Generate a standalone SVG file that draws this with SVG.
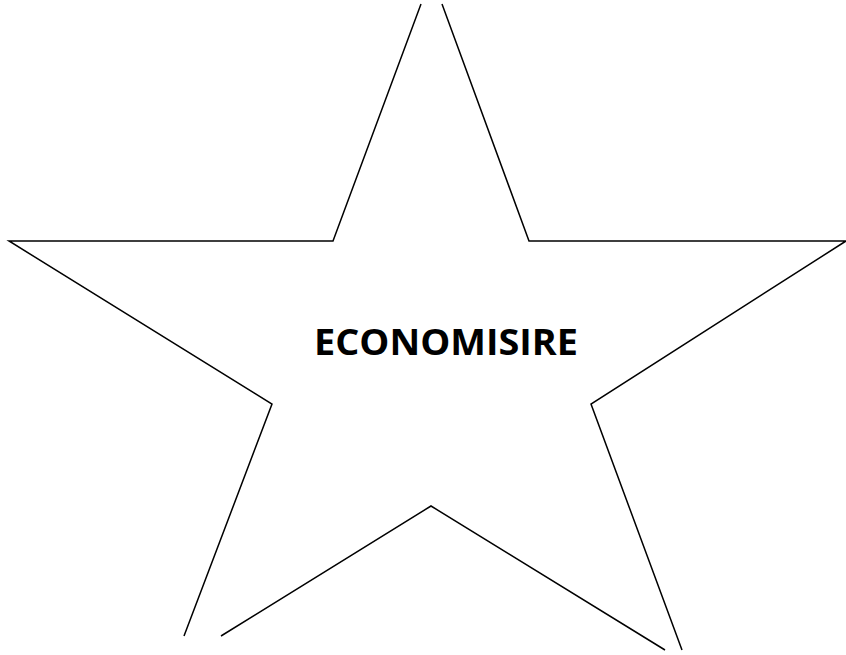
<svg xmlns="http://www.w3.org/2000/svg" width="846" height="655" viewBox="0 0 846 655">
<style>
.star{fill:none;stroke:#000;stroke-width:1.5;stroke-linejoin:miter}
.lbl{font-family:"Open Sans","Liberation Sans",sans-serif;font-weight:bold;font-size:36px;fill:#000}
</style>
<rect width="846" height="655" fill="#fff"/>
<g id="star">
<path class="star" d="M421,4 L333,241 L9,241 L272,404 L184,636 M221,636 L431,506 L665,650 M682,650 L591,404 L846,241 L529,241 L442,4"/>
<text class="lbl" x="314" y="355" textLength="264" lengthAdjust="spacingAndGlyphs">ECONOMISIRE</text>
</g>
</svg>
